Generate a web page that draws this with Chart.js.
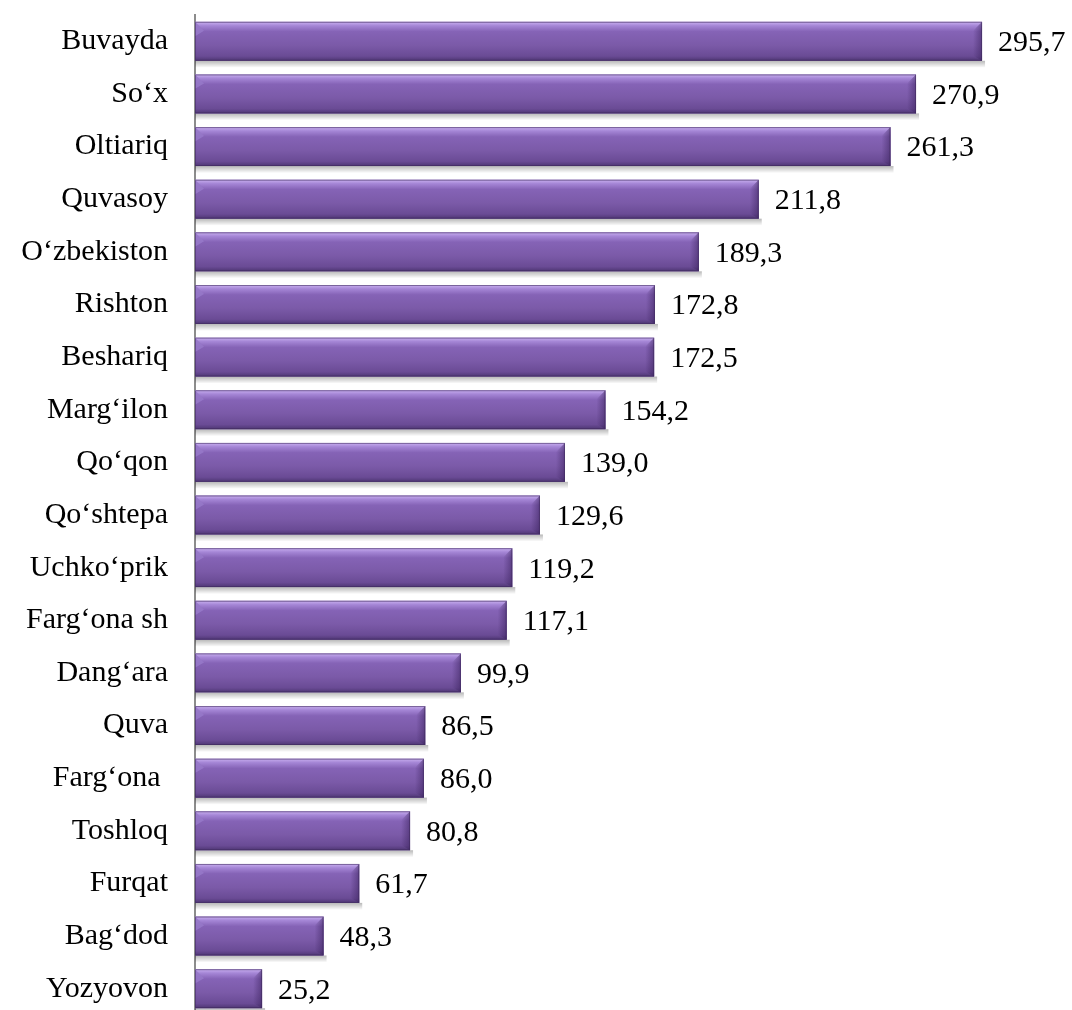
<!DOCTYPE html>
<html>
<head>
<meta charset="utf-8">
<script src="https://cdn.jsdelivr.net/npm/chart.js@4.4.1/dist/chart.umd.min.js"></script>
<style>
html,body{margin:0;padding:0;background:#fff;overflow:hidden;}
#wrap{width:1072px;height:1015px;position:relative;}
</style>
</head>
<body>
<div id="wrap"><canvas id="c" width="1072" height="1015"></canvas></div>
<script>
const categories = ["Buvayda","So‘x","Oltiariq","Quvasoy","O‘zbekiston","Rishton","Beshariq","Marg‘ilon","Qo‘qon","Qo‘shtepa","Uchko‘prik","Farg‘ona sh","Dang‘ara","Quva","Farg‘ona ","Toshloq","Furqat","Bag‘dod","Yozyovon"];
const values = [295.7,270.9,261.3,211.8,189.3,172.8,172.5,154.2,139.0,129.6,119.2,117.1,99.9,86.5,86.0,80.8,61.7,48.3,25.2];

const FONT = "'Liberation Serif','Times New Roman',serif";

const barStyle = {
  id: 'barStyle',
  beforeDatasetsDraw(chart) {
    const ctx = chart.ctx;
    const meta = chart.getDatasetMeta(0);
    ctx.save();
    meta.data.forEach(b => {
      const bot = b.y + b.height/2;
      const left = b.base, right = b.x;
      const g = ctx.createLinearGradient(0, bot, 0, bot + 7);
      g.addColorStop(0, 'rgba(0,0,0,0.28)');
      g.addColorStop(1, 'rgba(0,0,0,0)');
      ctx.fillStyle = g;
      ctx.fillRect(left, bot, right - left + 3, 7);
    });
    ctx.restore();
  },
  afterDatasetsDraw(chart) {
    const ctx = chart.ctx;
    const meta = chart.getDatasetMeta(0);
    ctx.save();
    meta.data.forEach((b, i) => {
      const top = b.y - b.height/2, bot = b.y + b.height/2, h = b.height;
      const left = b.base, right = b.x, w = right - left;
      const g = ctx.createLinearGradient(0, top, 0, bot);
      g.addColorStop(0, '#c9b0f0');
      g.addColorStop(0.10, '#a586d6');
      g.addColorStop(0.25, '#8563b6');
      g.addColorStop(0.6, '#7b5aa8');
      g.addColorStop(0.88, '#6a4b95');
      g.addColorStop(1, '#4e3673');
      ctx.fillStyle = g;
      ctx.fillRect(left, top, w, h);
      const bv = Math.min(9, w/3);
      ctx.beginPath();
      ctx.moveTo(left, top);
      ctx.lineTo(left + bv, top + bv);
      ctx.lineTo(left, top + bv * 1.6);
      ctx.closePath();
      ctx.fillStyle = 'rgba(150,120,200,0.9)';
      ctx.fill();
      const rg = ctx.createLinearGradient(right - bv, 0, right, 0);
      rg.addColorStop(0, 'rgba(60,35,95,0.0)');
      rg.addColorStop(1, 'rgba(60,35,95,0.55)');
      ctx.beginPath();
      ctx.moveTo(right, top);
      ctx.lineTo(right, bot);
      ctx.lineTo(right - bv, bot - bv*0.6);
      ctx.lineTo(right - bv, top + bv);
      ctx.closePath();
      ctx.fillStyle = rg;
      ctx.fill();
      ctx.strokeStyle = 'rgba(60,40,90,0.55)';
      ctx.lineWidth = 1;
      ctx.strokeRect(left + 0.5, top + 0.5, w - 1, h - 1);
      ctx.fillStyle = '#000';
      ctx.font = '30px ' + FONT;
      ctx.textAlign = 'left';
      ctx.textBaseline = 'middle';
      ctx.fillText(values[i].toFixed(1).replace('.', ','), right + 16, b.y + 2);
    });
    ctx.restore();
  }
};

new Chart(document.getElementById('c'), {
  type: 'bar',
  data: {
    labels: categories,
    datasets: [{
      data: values,
      backgroundColor: '#7b5aa8',
      borderWidth: 0,
      barPercentage: 0.74,
      categoryPercentage: 1.0
    }]
  },
  options: {
    indexAxis: 'y',
    responsive: false,
    animation: false,
    layout: { padding: { top: 15, right: 0, bottom: 0, left: 0 } },
    plugins: { legend: { display: false }, tooltip: { enabled: false } },
    scales: {
      x: { display: false, min: 0, max: 329.5 },
      y: {
        afterFit(scale) { scale.width = 195; scale.paddingTop = 0; scale.paddingBottom = 0; },
        grid: { display: false, drawTicks: false },
        border: { display: true, color: '#8c8c8c', width: 2 },
        ticks: { color: '#000', padding: 27, font: { family: FONT, size: 30 } }
      }
    }
  },
  plugins: [barStyle]
});
</script>
</body>
</html>
